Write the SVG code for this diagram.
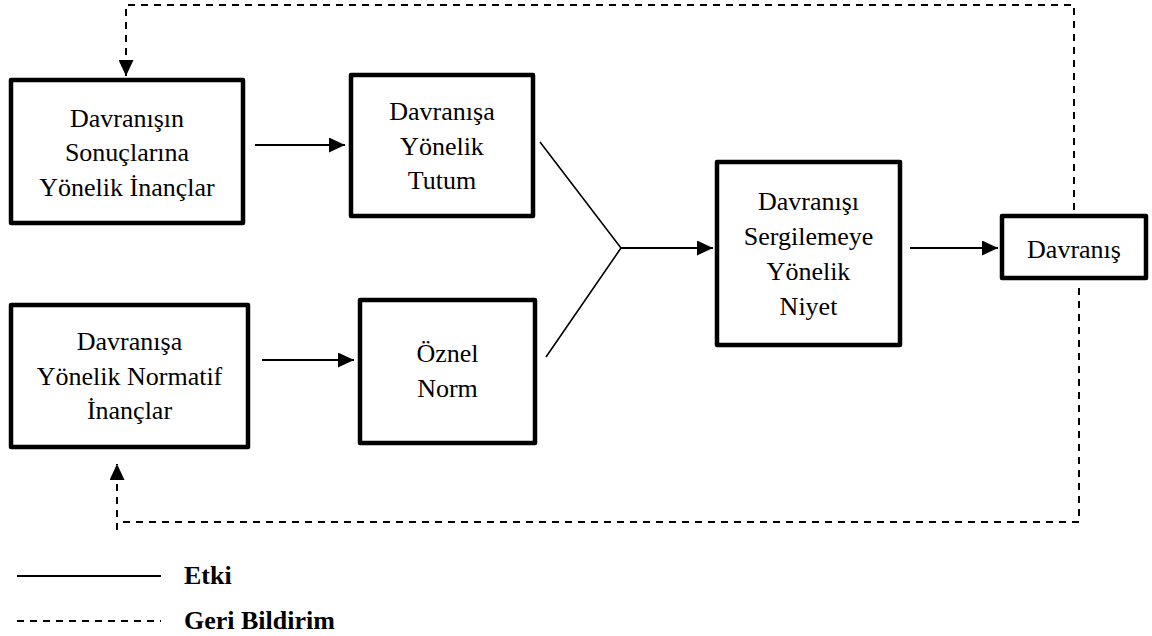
<svg xmlns="http://www.w3.org/2000/svg" width="1152" height="636" viewBox="0 0 1152 636">
<defs>
<style>
.box{fill:#fff;stroke:#000;stroke-width:4.5;stroke-linejoin:round}
.t{font-size:26px;fill:#000;text-anchor:middle}
.lg{font-size:26px;font-weight:bold;fill:#000}
.ln{fill:none;stroke:#000;stroke-width:2}
.thin{fill:none;stroke:#000;stroke-width:1.6}
.dash{fill:none;stroke:#000;stroke-width:2;stroke-dasharray:7 6}
</style>
<marker id="ah" viewBox="0 0 16 15" refX="16" refY="7.5" markerWidth="16" markerHeight="15" markerUnits="userSpaceOnUse" orient="auto">
<path d="M0,0 L16,7.5 L0,15 z" fill="#000"/>
</marker>
</defs>
<rect width="1152" height="636" fill="#fff"/>
<g id="connectors">
<line class="ln" x1="255" y1="145" x2="345" y2="145" marker-end="url(#ah)"/>
<line class="ln" x1="262" y1="360" x2="354" y2="360" marker-end="url(#ah)"/>
<polyline class="thin" points="540,142 621,248 546,357"/>
<line class="ln" x1="621" y1="248" x2="713" y2="248" marker-end="url(#ah)"/>
<line class="ln" x1="910" y1="248" x2="998" y2="248" marker-end="url(#ah)"/>
<path class="dash" d="M1074,210 V5 H126 V76" marker-end="url(#ah)"/>
<path class="dash" d="M1079,288 V522 H117"/>
<path class="dash" d="M117,530 V464" marker-end="url(#ah)"/>
</g>
<g font-family="'Liberation Serif', 'Times New Roman', serif">
<g id="node-sonuc-inanclar">
<rect class="box" x="11" y="80" width="232" height="143"/>
<text class="t" x="127" y="127">Davranışın</text>
<text class="t" x="127" y="161">Sonuçlarına</text>
<text class="t" x="127" y="196">Yönelik İnançlar</text>
</g>
<g id="node-tutum">
<rect class="box" x="351" y="75" width="182" height="141"/>
<text class="t" x="442" y="120">Davranışa</text>
<text class="t" x="442" y="155">Yönelik</text>
<text class="t" x="442" y="189">Tutum</text>
</g>
<g id="node-normatif-inanclar">
<rect class="box" x="11" y="305" width="237" height="142"/>
<text class="t" x="129.5" y="350">Davranışa</text>
<text class="t" x="129.5" y="385">Yönelik Normatif</text>
<text class="t" x="129.5" y="419">İnançlar</text>
</g>
<g id="node-oznel-norm">
<rect class="box" x="360" y="300" width="175" height="143"/>
<text class="t" x="447.5" y="362">Öznel</text>
<text class="t" x="447.5" y="397">Norm</text>
</g>
<g id="node-niyet">
<rect class="box" x="717" y="162" width="183" height="183"/>
<text class="t" x="808.5" y="210">Davranışı</text>
<text class="t" x="808.5" y="245">Sergilemeye</text>
<text class="t" x="808.5" y="280">Yönelik</text>
<text class="t" x="808.5" y="315">Niyet</text>
</g>
<g id="node-davranis">
<rect class="box" x="1002" y="216" width="144" height="62"/>
<text class="t" x="1074" y="258">Davranış</text>
</g>
<g id="legend">
<line class="ln" x1="17" y1="576" x2="161" y2="576"/>
<text class="lg" x="184" y="584">Etki</text>
<line class="dash" x1="17" y1="621" x2="161" y2="621"/>
<text class="lg" x="184" y="629">Geri Bildirim</text>
</g>
</g>
</svg>
